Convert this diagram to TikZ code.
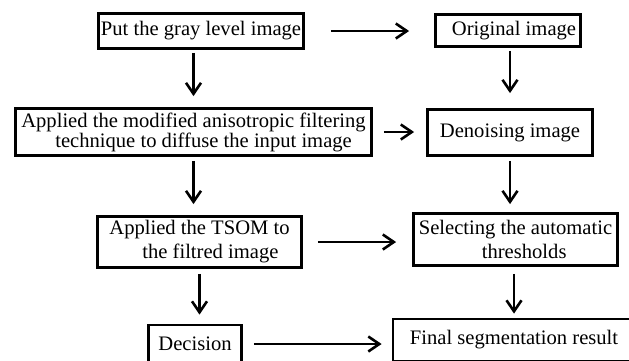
\documentclass[tikz,border=0pt]{standalone}
\usepackage{fontspec}
\setmainfont{Liberation Serif}
\usetikzlibrary{arrows.meta}
\begin{document}
\begin{tikzpicture}[x=1pt,y=-1pt,
  box/.style={draw, line width=2.8pt, inner sep=0pt, align=left,
    font=\fontsize{20.6}{24}\selectfont},
  arr/.style={line width=2.8pt, -{Straight Barb[length=11pt,width=15pt,line width=2.6pt]}}]
\clip (0,0) rectangle (629,360);
\node[box, minimum width=205pt, minimum height=35pt] (b1) at (201,31) {Put the gray level image};
\node[box, minimum width=145pt, minimum height=32pt] (o) at (508,30.5) {\hspace*{12pt}Original image};
\node[box, minimum width=356pt, minimum height=47pt, font=\fontsize{20.6}{20}\selectfont] (b2) at (193.5,132)
  {Applied the modified anisotropic filtering\\\hspace*{34pt}technique to diffuse the input image};
\node[box, minimum width=165pt, minimum height=46pt] (d) at (510,132.5) {Denoising image};
\node[box, minimum width=204pt, minimum height=51pt] (b3) at (199.5,242)
  {Applied the TSOM to\\\hspace*{33pt}the filtred image};
\node[box, minimum width=204pt, minimum height=52pt] (s) at (515.5,239.5)
  {Selecting the automatic\\\hspace*{63pt}thresholds};
\node[box, minimum width=93pt, minimum height=38pt] (dec) at (195,344) {Decision};
\node[box, minimum width=242pt, minimum height=42pt] (fin) at (514,340) {Final segmentation result};
\draw[arr, shorten <=26pt, shorten >=25pt] (b1.east) -- (b1.east -| o.west);
\draw[arr, shorten <=3pt, shorten >=11pt] (b1.south -| b2.north) -- (b2.north);
\draw[arr, shorten <=3pt, shorten >=15pt] (d.north |- o.south) -- (d.north);
\draw[arr, shorten <=11pt, shorten >=12pt] (b2.east) -- (b2.east -| d.west);
\draw[arr, shorten <=4pt, shorten >=11pt] (b2.south) -- (b2.south |- b3.north);
\draw[arr, shorten <=4pt, shorten >=8pt] (d.south) -- (d.south |- s.north);
\draw[arr, shorten <=15pt, shorten >=16pt] (b3.east) -- (b3.east -| s.west);
\draw[arr, shorten <=5pt, shorten >=9pt] (b3.south) -- (b3.south |- dec.north);
\draw[arr, shorten <=7pt, shorten >=4pt] (fin.north |- s.south) -- (fin.north);
\draw[arr, shorten <=11pt, shorten >=10pt] (dec.east) -- (dec.east -| fin.west);
\end{tikzpicture}
\end{document}
